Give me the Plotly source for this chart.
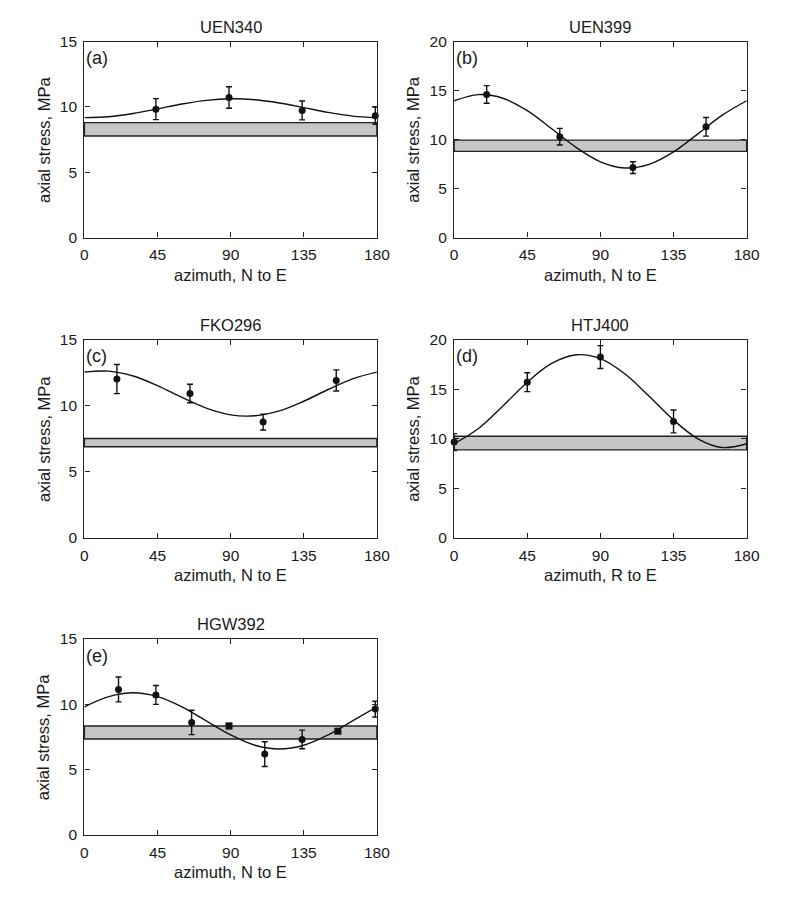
import plotly.graph_objects as go

# ---------------- data ----------------
curve_az = [0, 15, 30, 45, 60, 75, 90, 105, 120, 135, 150, 165, 180]

# (a) UEN340
a_az = [44, 89, 134, 179]
a_val = [9.83, 10.72, 9.73, 9.33]
a_err = [0.80, 0.82, 0.72, 0.65]
a_curve = [9.18, 9.25, 9.50, 9.85, 10.22, 10.50, 10.62, 10.55, 10.30, 9.95, 9.58, 9.30, 9.18]
a_band = [7.78, 8.80]

# (b) UEN399
b_az = [20, 65, 110, 155]
b_val = [14.6, 10.3, 7.15, 11.3]
b_err = [0.9, 0.85, 0.6, 0.95]
b_curve = [13.96, 14.59, 14.22, 12.95, 11.11, 9.21, 7.74, 7.11, 7.48, 8.75, 10.59, 12.49, 13.96]
b_band = [8.8, 9.95]

# (c) FKO296
c_az = [20, 65, 110, 155]
c_val = [12.02, 10.93, 8.77, 11.92]
c_err = [1.1, 0.7, 0.6, 0.8]
c_curve = [12.55, 12.62, 12.25, 11.52, 10.63, 9.82, 9.31, 9.24, 9.61, 10.34, 11.23, 12.04, 12.55]
c_band = [6.9, 7.52]

# (d) HTJ400
d_az = [0, 45, 90, 135]
d_val = [9.67, 15.71, 18.25, 11.75]
d_err = [0.85, 0.95, 1.15, 1.15]
d_curve = [9.5, 11.04, 13.31, 15.71, 17.6, 18.48, 18.09, 16.56, 14.29, 11.89, 10.0, 9.12, 9.5]
d_band = [8.88, 10.26]

# (e) HGW392
e_az = [21, 44, 66, 89, 111, 134, 156, 179]
e_val = [11.13, 10.71, 8.61, 8.34, 6.19, 7.31, 7.94, 9.63]
e_err = [0.95, 0.72, 0.93, 0.2, 0.95, 0.71, 0.15, 0.6]
e_symbol = ["circle", "circle", "circle", "square", "circle", "circle", "square", "circle"]
e_curve = [9.81, 10.59, 10.88, 10.59, 9.81, 8.73, 7.66, 6.87, 6.58, 6.87, 7.66, 8.73, 9.81]
e_band = [7.34, 8.34]

titles = ["UEN340", "UEN399", "FKO296", "HTJ400", "HGW392"]
letters = ["(a)", "(b)", "(c)", "(d)", "(e)"]
xtitles = ["azimuth, N to E", "azimuth, N to E", "azimuth, N to E", "azimuth, R to E", "azimuth, N to E"]
ymax = [15, 20, 15, 20, 15]
x_ticks = [0, 45, 90, 135, 180]

# ---------------- layout geometry ----------------
OFF = 8                      # page body margin
W, H = 797 - 2 * OFF, 905 - 2 * OFF
col_x = [(82 - OFF, 381 - OFF), (460 - OFF, 759 - OFF)]
row_y = [(33 - OFF, 233 - OFF), (337 - OFF, 539 - OFF), (642 - OFF, 842 - OFF)]
pos = [(0, 0), (0, 1), (1, 0), (1, 1), (2, 0)]

FONT = "Liberation Sans, Arial, Helvetica, sans-serif"
TXT = "#1a1a1a"

fig = go.Figure()
panels = [
    (a_az, a_val, a_err, a_curve, a_band, ["circle"] * 4),
    (b_az, b_val, b_err, b_curve, b_band, ["circle"] * 4),
    (c_az, c_val, c_err, c_curve, c_band, ["circle"] * 4),
    (d_az, d_val, d_err, d_curve, d_band, ["circle"] * 4),
    (e_az, e_val, e_err, e_curve, e_band, e_symbol),
]

layout = dict(
    width=W, height=H,
    margin=dict(l=0, r=0, t=0, b=0),
    paper_bgcolor="white", plot_bgcolor="white",
    showlegend=False,
    font=dict(family=FONT, color=TXT, size=15),
)
annotations = []
shapes = []

for i, (az, val, err, curve, band, sym) in enumerate(panels):
    n = i + 1
    xa = "x" if n == 1 else f"x{n}"
    ya = "y" if n == 1 else f"y{n}"
    r, c = pos[i]
    x0, x1 = col_x[c]
    y0, y1 = row_y[r]
    axis_common = dict(
        showline=True, linecolor="#222", linewidth=1.4, mirror="ticks",
        ticks="inside", ticklen=5, tickwidth=1.2, tickcolor="#222",
        showgrid=False, zeroline=False,
        tickfont=dict(family=FONT, size=15.5, color=TXT),
    )
    layout["xaxis" if n == 1 else f"xaxis{n}"] = dict(
        domain=[x0 / W, x1 / W], anchor=ya, range=[0, 180],
        tickvals=x_ticks, ticklabelstandoff=3, **axis_common)
    layout["yaxis" if n == 1 else f"yaxis{n}"] = dict(
        domain=[1 - y1 / H, 1 - y0 / H], anchor=xa, range=[0, ymax[i]],
        dtick=5, ticklabelstandoff=3, **axis_common)

    # band
    shapes.append(dict(type="rect", xref=f"{xa} domain", yref=ya,
                       x0=0, x1=1, y0=band[0], y1=band[1],
                       fillcolor="#c6c6c6", line=dict(color="#222", width=1.4),
                       layer="below"))
    # fitted curve
    fig.add_trace(go.Scatter(x=curve_az, y=curve, mode="lines", xaxis=xa, yaxis=ya,
                             line=dict(color="#111", width=1.4, shape="spline", smoothing=1.0),
                             cliponaxis=False, hoverinfo="skip"))
    # data points with error bars
    fig.add_trace(go.Scatter(x=az, y=val, mode="markers", xaxis=xa, yaxis=ya,
                             marker=dict(color="#111", size=7, symbol=sym),
                             error_y=dict(type="data", array=err, visible=True,
                                          color="#111", thickness=1.4, width=3),
                             cliponaxis=False))

    h = y1 - y0
    w = x1 - x0
    annotations.append(dict(text=titles[i], xref=f"{xa} domain", yref=f"{ya} domain",
                            x=0.5, y=1 + 15 / h, showarrow=False,
                            font=dict(size=16.5, family=FONT, color=TXT),
                            xanchor="center", yanchor="middle"))
    annotations.append(dict(text=letters[i], xref=f"{xa} domain", yref=f"{ya} domain",
                            x=0, y=1 - 17 / h, showarrow=False,
                            font=dict(size=18, family=FONT, color=TXT),
                            xanchor="left", yanchor="middle"))
    annotations.append(dict(text=xtitles[i], xref=f"{xa} domain", yref=f"{ya} domain",
                            x=0.5, y=-38 / h, showarrow=False,
                            font=dict(size=16.5, family=FONT, color=TXT),
                            xanchor="center", yanchor="middle"))
    annotations.append(dict(text="axial stress, MPa", xref=f"{xa} domain", yref=f"{ya} domain",
                            x=-42 / w, y=0.5, showarrow=False, textangle=-90,
                            font=dict(size=16.5, family=FONT, color=TXT),
                            xanchor="center", yanchor="middle"))

layout["annotations"] = annotations
layout["shapes"] = shapes
fig.update_layout(**layout)
fig.write_html("out.html")
